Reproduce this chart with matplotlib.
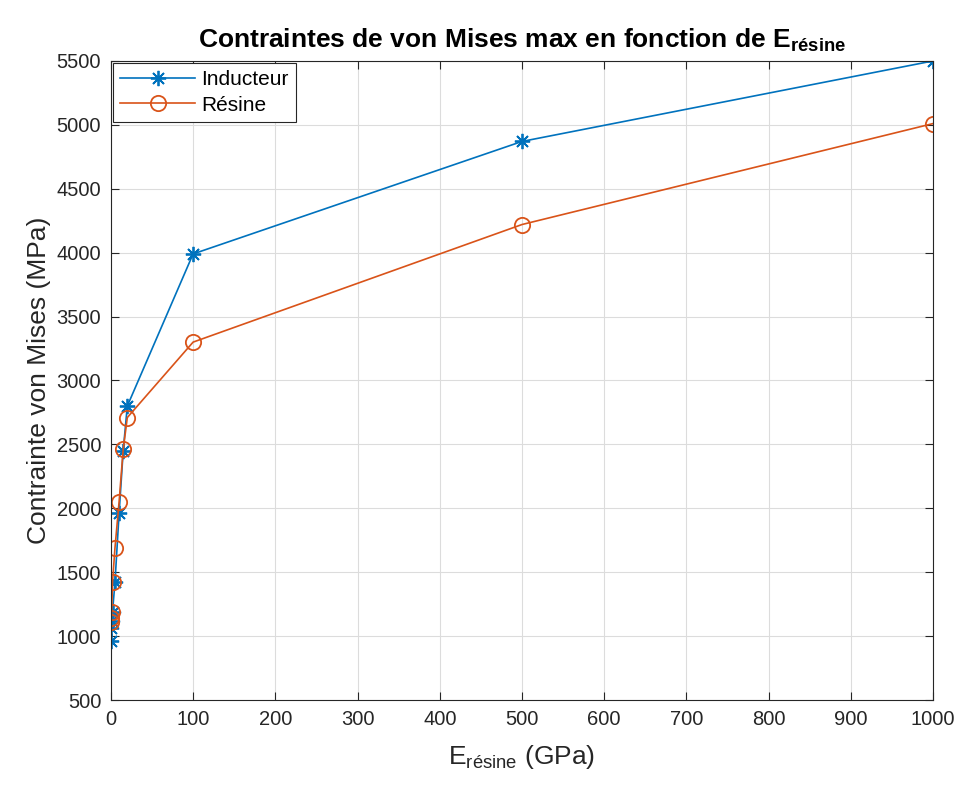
import matplotlib.pyplot as plt

# valeurs
E_resine = [0.1, 0.5, 1, 2, 5, 10, 15, 20, 100, 500, 1000]
vm_inducteur = [960, 1060, 1120, 1190, 1420, 1960, 2450, 2800, 3990, 4870, 5500]
vm_resine = [1110, 1140, 1190, 1420, 1690, 2050, 2460, 2710, 3300, 4220, 5010]

plt.rcParams['font.family'] = ['Liberation Sans', 'DejaVu Sans']
plt.rcParams['mathtext.fontset'] = 'custom'
plt.rcParams['mathtext.rm'] = 'Liberation Sans'
plt.rcParams['mathtext.bf'] = 'Liberation Sans:bold'

dpi = 100
fig = plt.figure(dpi=dpi, figsize=(964 / dpi, 791 / dpi))
ax = fig.add_axes([0.115, 0.115, 0.853, 0.808])

blue = '#0072BD'
orange = '#D95319'
ax.plot(E_resine, vm_inducteur, '-', color=blue, lw=1.2, marker=(8, 2, 0),
        ms=11, mew=1.3, label='Inducteur')
ax.plot(E_resine, vm_resine, '-o', color=orange, lw=1.2, ms=11, mfc='none',
        mew=1.3, label='Résine')

ax.set_xlim(0, 1000)
ax.set_ylim(500, 5500)
ax.set_xticks(range(0, 1001, 100))
ax.set_yticks(range(500, 5501, 500))
ax.grid(True, color='#dcdcdc', lw=0.8)
ax.set_axisbelow(True)
ax.tick_params(direction='in', labelsize=14.5, colors='#262626', length=6,
               top=True, right=True, pad=7)
for s in ax.spines.values():
    s.set_color('#262626')
    s.set_linewidth(0.8)

ax.set_title(r'Contraintes de von Mises max en fonction de E$_{\mathbf{résine}}$',
             fontsize=19, fontweight='bold', pad=10)
ax.set_xlabel(r'E$_{\mathrm{résine}}$ (GPa)', fontsize=19, color='#262626', labelpad=10)
ax.set_ylabel('Contrainte von Mises (MPa)', fontsize=19, color='#262626', labelpad=4)

leg = ax.legend(loc='upper left', fontsize=15, fancybox=False, framealpha=1,
                edgecolor='#262626', borderaxespad=0.1, handlelength=3.6,
                handletextpad=0.3, borderpad=0.35, labelspacing=0.3)
leg.get_frame().set_linewidth(0.8)

fig.savefig('out.png', dpi=dpi)
